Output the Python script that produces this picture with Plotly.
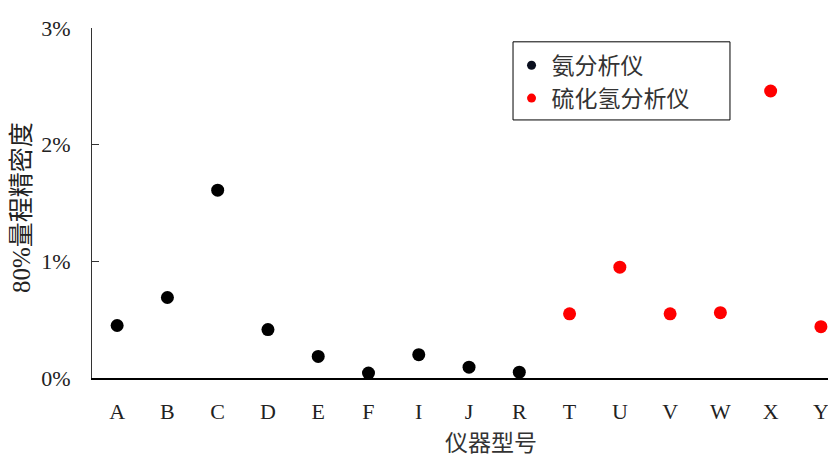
import plotly.graph_objects as go

# Data (values in %)
amm_cats = ["A", "B", "C", "D", "E", "F", "I", "J", "R"]
amm_vals = [0.45, 0.69, 1.61, 0.415, 0.185, 0.042, 0.20, 0.093, 0.05]
h2s_cats = ["T", "U", "V", "W", "X", "Y"]
h2s_vals = [0.55, 0.95, 0.55, 0.56, 2.46, 0.44]
all_cats = amm_cats + h2s_cats
y_ticks = [0, 1, 2, 3]

serif = "Liberation Serif, Times New Roman, Noto Sans CJK SC, serif"
cjk = "Noto Sans CJK SC, sans-serif"

fig = go.Figure()
fig.add_trace(go.Scatter(x=amm_cats, y=amm_vals, mode="markers", name="氨分析仪",
                         marker=dict(color="#000000", size=13), showlegend=False))
fig.add_trace(go.Scatter(x=h2s_cats, y=h2s_vals, mode="markers", name="硫化氢分析仪",
                         marker=dict(color="#ff0000", size=13), showlegend=False))
# legend-only entries (smaller legend symbols)
fig.add_trace(go.Scatter(x=[None], y=[None], mode="markers", name="氨分析仪",
                         marker=dict(color="#0a0f1e", size=9)))
fig.add_trace(go.Scatter(x=[None], y=[None], mode="markers", name="硫化氢分析仪",
                         marker=dict(color="#ff0000", size=9)))

fig.update_layout(
    width=836, height=459,
    margin=dict(l=84, r=8, t=16, b=89),
    paper_bgcolor="white", plot_bgcolor="white",
    showlegend=True,
    legend=dict(x=0.5659 - 0.002, y=0.955, xanchor="left", yanchor="top",
                borderwidth=0, bgcolor="rgba(0,0,0,0)",
                font=dict(family=cjk, size=23, color="#333333"),
                tracegroupgap=0, itemwidth=30),
    xaxis=dict(type="category", categoryorder="array", categoryarray=all_cats,
               range=[-0.5, 14.3], showgrid=False, zeroline=False,
               showline=True, linecolor="#000000", linewidth=2,
               ticks="", ticklabelstandoff=13,
               tickfont=dict(family=serif, size=22, color="#222222")),
    yaxis=dict(range=[0, 3], tickvals=y_ticks, ticktext=[f"{v}%" for v in y_ticks],
               showgrid=False, zeroline=False,
               showline=True, linecolor="#333333", linewidth=1,
               ticks="inside", ticklen=7, tickcolor="#333333",
               ticklabelstandoff=16,
               tickfont=dict(family=serif, size=22, color="#222222")),
    shapes=[
        dict(type="rect", xref="paper", yref="paper",
             x0=0.5659, x1=0.8575, y0=0.7373, y1=0.9605,
             line=dict(color="#000000", width=1), fillcolor="rgba(0,0,0,0)"),
    ],
    annotations=[
        dict(text="80%量程精密度", xref="paper", yref="paper", x=-0.094, y=0.486,
             textangle=-90, showarrow=False, xanchor="center", yanchor="middle",
             font=dict(family=serif, size=25, color="#222222")),
        dict(text="仪器型号", xref="paper", yref="paper", x=0.536, y=-0.181,
             showarrow=False, xanchor="center", yanchor="middle", borderpad=0,
             font=dict(family=cjk, size=23, color="#333333")),
    ],
)

fig.write_html("out.html")
